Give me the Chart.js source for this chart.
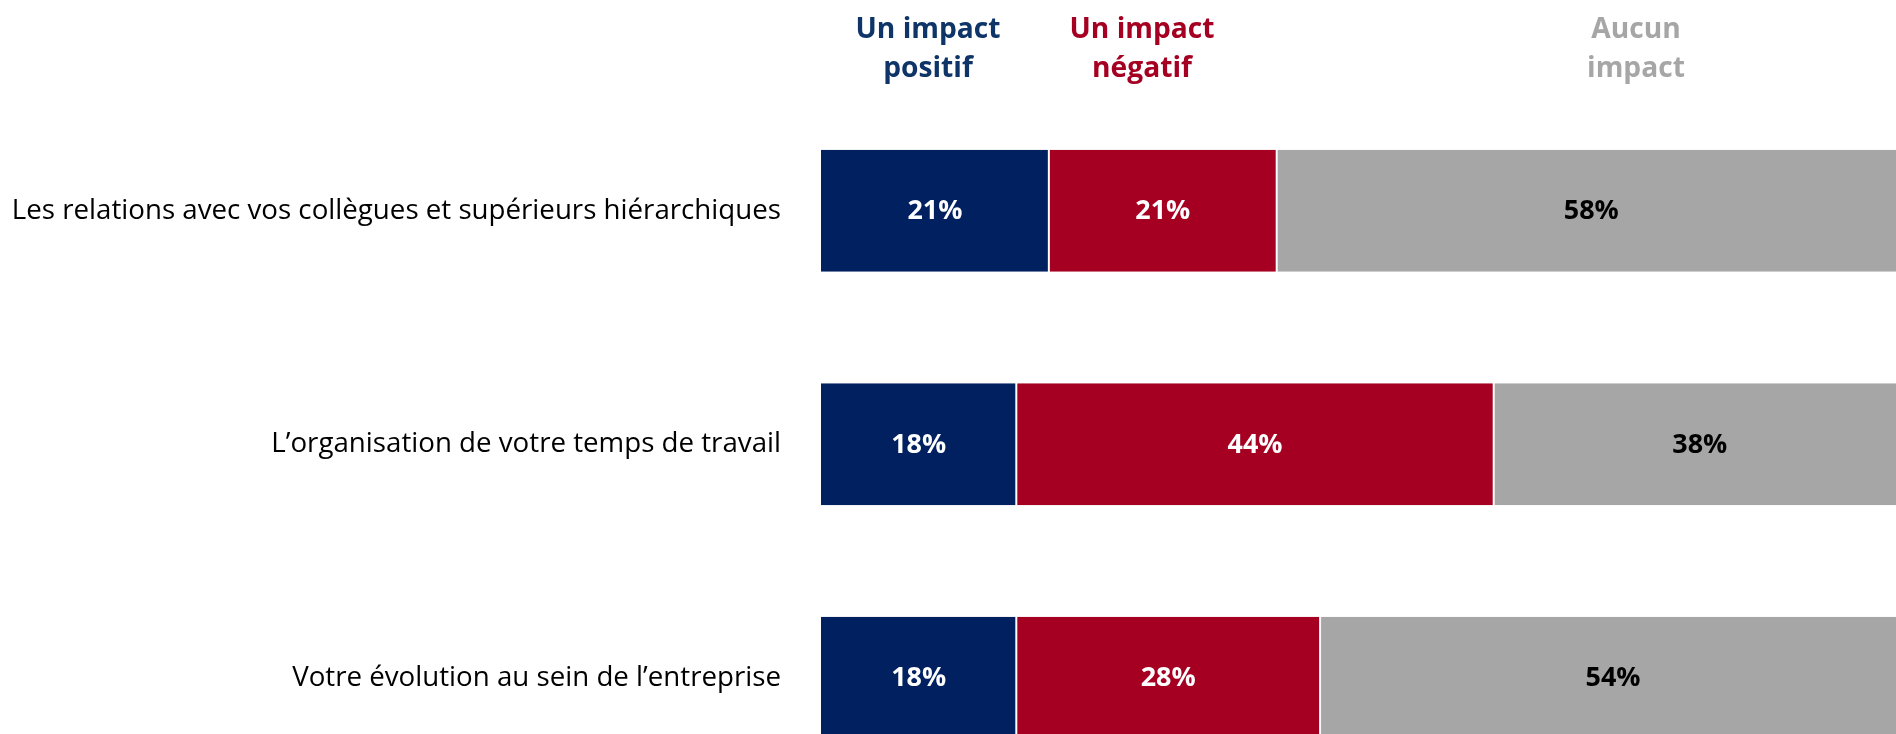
<!DOCTYPE html>
<html>
<head>
<meta charset="utf-8">
<script src="https://cdn.jsdelivr.net/npm/chart.js@4"></script>
<style>
  html, body { margin: 0; padding: 0; background: #ffffff; overflow: hidden; width: 1896px; height: 734px; }
  #wrap { position: absolute; left: 0; top: 0; width: 1906px; height: 800px; }
</style>
</head>
<body>
<div id="wrap"><canvas id="c"></canvas></div>
<script>
const categories = [
  "Les relations avec vos collègues et supérieurs hiérarchiques",
  "L’organisation de votre temps de travail",
  "Votre évolution au sein de l’entreprise"
];
const seriesNames = ["Un impact positif", "Un impact négatif", "Aucun impact"];
const positif = [21, 18, 18];
const negatif = [21, 44, 28];
const aucun = [58, 38, 54];

const barColors = ["#002060", "#A50021", "#A6A6A6"];
const headerColors = ["#0E3468", "#A50021", "#A6A6A6"];
const labelColors = ["#FFFFFF", "#FFFFFF", "#000000"];
const headerLines = [["Un impact", "positif"], ["Un impact", "négatif"], ["Aucun", "impact"]];
const headerCenters = [928, 1142, 1636];

const FONT = "'Open Sans', Lato, sans-serif";

function fitSize(text, weight, target) {
  const c = document.createElement("canvas").getContext("2d");
  c.font = weight + " 100px " + FONT;
  const w = c.measureText(text).width;
  return Math.round(100 * target / w * 10) / 10;
}
const axisSize = fitSize(categories[0], "normal", 769);
const headerSize = fitSize("Un impact", "bold", 145);
const valueSize = fitSize("44%", "bold", 55);

const valueLabels = {
  id: "valueLabels",
  afterDatasetsDraw(chart) {
    const ctx = chart.ctx;
    ctx.save();
    ctx.font = "bold " + valueSize + "px " + FONT;
    ctx.textAlign = "center";
    ctx.textBaseline = "middle";
    chart.data.datasets.forEach((ds, di) => {
      const meta = chart.getDatasetMeta(di);
      meta.data.forEach((el, i) => {
        const p = el.getCenterPoint();
        ctx.fillStyle = labelColors[di];
        ctx.fillText(ds.data[i] + "%", p.x, p.y + 1);
      });
    });
    ctx.restore();
  }
};

const headers = {
  id: "headers",
  afterDraw(chart) {
    const ctx = chart.ctx;
    ctx.save();
    ctx.font = "bold " + headerSize + "px " + FONT;
    ctx.textAlign = "center";
    ctx.textBaseline = "alphabetic";
    headerLines.forEach((lines, i) => {
      ctx.fillStyle = headerColors[i];
      lines.forEach((t, j) => ctx.fillText(t, headerCenters[i], 38 + j * 39));
    });
    ctx.restore();
  }
};

const borders = [
  {left: 0, right: 1, top: 0, bottom: 0},
  {left: 1, right: 1, top: 0, bottom: 0},
  {left: 1, right: 0, top: 0, bottom: 0}
];

new Chart(document.getElementById("c"), {
  type: "bar",
  data: {
    labels: categories,
    datasets: [positif, negatif, aucun].map((d, i) => ({
      label: seriesNames[i],
      data: d,
      backgroundColor: barColors[i],
      borderColor: "#FFFFFF",
      borderWidth: borders[i],
      borderSkipped: false,
      barPercentage: 1,
      categoryPercentage: 0.5225
    }))
  },
  options: {
    indexAxis: "y",
    responsive: true,
    maintainAspectRatio: false,
    animation: false,
    devicePixelRatio: 1,
    layout: { autoPadding: false, padding: { top: 94, bottom: 5.5, left: 0, right: 0 } },
    plugins: { legend: { display: false }, tooltip: { enabled: false } },
    scales: {
      x: { stacked: true, min: 0, max: 100, display: false },
      y: {
        stacked: true,
        grid: { display: false, drawTicks: false },
        border: { display: false },
        ticks: { color: "#000000", padding: 40, font: { family: FONT, size: axisSize } },
        afterFit(scale) {
          scale.width = 821;
          scale.paddingTop = 0;
          scale.paddingBottom = 0;
        }
      }
    }
  },
  plugins: [valueLabels, headers]
});
</script>
</body>
</html>
